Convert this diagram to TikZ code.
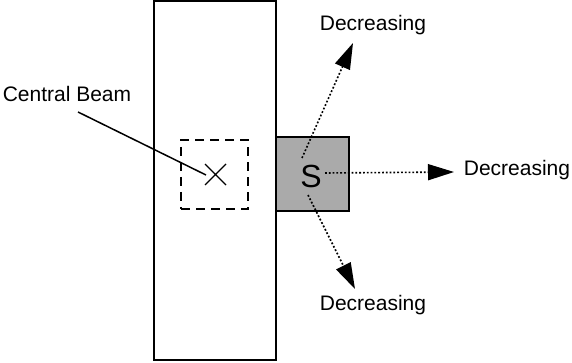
\documentclass[tikz,border=0pt]{standalone}
\usepackage{fontspec}
\setmainfont{Liberation Sans}
\usetikzlibrary{arrows.meta}
\definecolor{boxgrey}{RGB}{170,170,170}
\begin{document}
\begin{tikzpicture}[x=1pt,y=-1pt,
  lbl/.style={font=\fontsize{21}{24}\selectfont, inner sep=0pt},
  dotarrow/.style={line width=1.6pt, dash pattern=on 1.8pt off 2pt, -{Triangle[length=26pt,width=16pt]}},
  solid line/.style={line width=1.5pt}]
\useasboundingbox (0,0) rectangle (572,363);
% main plate
\node[draw, line width=1.5pt, minimum width=122pt, minimum height=359pt, inner sep=0pt] (plate) at (215,180.5) {};
% dashed beam box
\node[draw, line width=1.5pt, dash pattern=on 9pt off 6pt, minimum width=67pt, minimum height=69pt, inner sep=0pt] (beam) at (214.5,174.5) {};
% X mark
\draw[line width=1.4pt] (205,164) -- (226,185) (205,185) -- (226,164);
% grey S box
\node[draw, fill=boxgrey, line width=1.5pt, minimum width=73pt, minimum height=74pt, inner sep=0pt] (sbox) at (312.5,174) {};
\node[font=\fontsize{32}{34}\selectfont, inner sep=0pt] (S) at (311,176) {S};
% labels
\node[lbl] (cb) at (67,94) {Central Beam};
\node[lbl] (d1) at (373,25) {Decreasing};
\node[lbl] (d2) at (517,170) {Decreasing};
\node[lbl] (d3) at (373,305) {Decreasing};
% leader
\coordinate (cbs) at (78,112);
\coordinate (cbe) at (206,175);
\draw[solid line] (cbs) -- (cbe);
% arrows
\coordinate (a1s) at (302,158);
\coordinate (a1e) at (353,43);
\coordinate (a2s) at (325,173);
\coordinate (a2e) at (454,172);
\coordinate (a3s) at (308,195);
\coordinate (a3e) at (355,289);
\draw[dotarrow] (a1s) -- (a1e);
\draw[dotarrow] (a2s) -- (a2e);
\draw[dotarrow] (a3s) -- (a3e);
\end{tikzpicture}
\end{document}
